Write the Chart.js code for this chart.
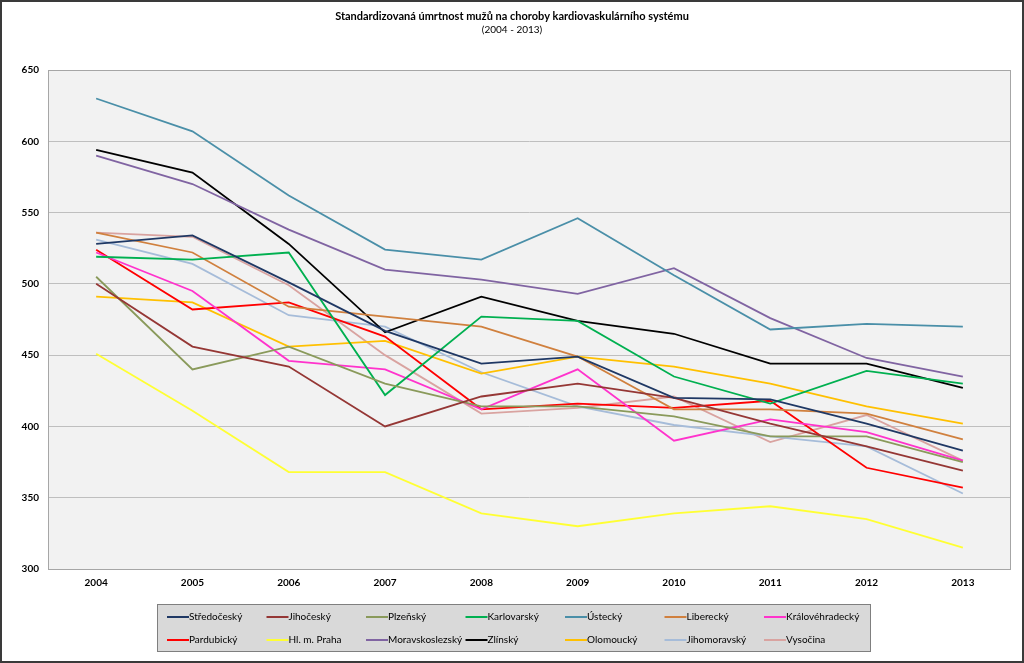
<!DOCTYPE html>
<html>
<head>
<meta charset="utf-8">
<script src="https://cdn.jsdelivr.net/npm/chart.js@4.4.1/dist/chart.umd.min.js"></script>
<style>
  html, body { margin:0; padding:0; background:#fff; }
  #wrap { width:1024px; height:663px; position:relative; }
</style>
</head>
<body>
<div id="wrap"><canvas id="graf" width="1024" height="663"></canvas></div>
<script>
const roky = ["2004","2005","2006","2007","2008","2009","2010","2011","2012","2013"];

const kraje = ["Středočeský","Jihočeský","Plzeňský","Karlovarský","Ústecký","Liberecký","Královéhradecký",
               "Pardubický","Hl. m. Praha","Moravskoslezský","Zlínský","Olomoucký","Jihomoravský","Vysočina"];

const barvy = ["#1F3864","#953735","#8A9A5B","#00B050","#4A8FA8","#D0803E","#FF33CC",
               "#FF0000","#FFFF33","#8064A2","#000000","#FFC000","#A6BCD9","#D9A3A0"];

const stredocesky     = [528, 534, 501, 467, 444, 449, 420, 419, 402, 383];
const jihocesky       = [500, 456, 442, 400, 421, 430, 420, 402, 386, 369];
const plzensky        = [505, 440, 456, 430, 414, 414, 407, 393, 393, 375];
const karlovarsky     = [519, 517, 522, 422, 477, 474, 435, 416, 439, 430];
const ustecky         = [630, 607, 562, 524, 517, 546, 506, 468, 472, 470];
const liberecky       = [536, 522, 484, 477, 470, 449, 412, 412, 409, 391];
const kralovehradecky = [522, 495, 446, 440, 412, 440, 390, 405, 396, 376];
const pardubicky      = [524, 482, 487, 463, 412, 416, 413, 418, 371, 357];
const praha           = [451, 411, 368, 368, 339, 330, 339, 344, 335, 315];
const moravskoslezsky = [590, 570, 538, 510, 503, 493, 511, 476, 448, 435];
const zlinsky         = [594, 578, 528, 466, 491, 474, 465, 444, 444, 427];
const olomoucky       = [491, 487, 456, 460, 437, 449, 442, 430, 414, 402];
const jihomoravsky    = [531, 514, 478, 470, 438, 414, 401, 393, 386, 353];
const vysocina        = [536, 533, 499, 450, 409, 413, 421, 389, 408, 376];

const hodnoty = [stredocesky, jihocesky, plzensky, karlovarsky, ustecky, liberecky, kralovehradecky,
                 pardubicky, praha, moravskoslezsky, zlinsky, olomoucky, jihomoravsky, vysocina];

const osaY = [300, 350, 400, 450, 500, 550, 600, 650];

const font = "Lato, 'Open Sans', sans-serif";

// pozadi, ramecek, titulek a legenda
const kresleni = {
  id: "kresleni",
  beforeDraw(chart){
    const ctx = chart.ctx, a = chart.chartArea;
    ctx.save();
    ctx.fillStyle = "#fff";
    ctx.fillRect(0, 0, chart.width, chart.height);
    ctx.fillStyle = "#F2F2F2";
    ctx.fillRect(a.left, a.top, a.right - a.left, a.bottom - a.top);
    ctx.restore();
  },
  afterDraw(chart){
    const ctx = chart.ctx, a = chart.chartArea;
    ctx.save();
    ctx.strokeStyle = "#A6A6A6";
    ctx.lineWidth = 1;
    ctx.strokeRect(a.left + 0.5, a.top + 0.5, a.right - a.left - 1, a.bottom - a.top);

    // vnejsi ramecek
    ctx.strokeStyle = "#3A3A3A";
    ctx.lineWidth = 2;
    ctx.strokeRect(1, 1, chart.width - 2, chart.height - 2);

    // titulek
    ctx.fillStyle = "#000";
    ctx.textAlign = "center";
    ctx.textBaseline = "middle";
    ctx.font = "bold 11px " + font;
    ctx.fillText("Standardizovaná úmrtnost mužů na choroby kardiovaskulárního systému", 512, 16);
    ctx.font = "10px " + font;
    ctx.fillText("(2004 - 2013)", 512, 30);

    // legenda
    ctx.fillStyle = "#D9D9D9";
    ctx.fillRect(157, 604, 713, 47);
    ctx.strokeStyle = "#7F7F7F";
    ctx.lineWidth = 1;
    ctx.strokeRect(157.5, 604.5, 713, 47);
    ctx.font = "10px " + font;
    ctx.textAlign = "left";
    chart.data.datasets.forEach((ds, i) => {
      const sl = i % 7, rd = Math.floor(i / 7);
      const x = 167 + sl * 99.5, y = 617 + rd * 23;
      ctx.strokeStyle = ds.borderColor;
      ctx.lineWidth = 2;
      ctx.beginPath();
      ctx.moveTo(x, y);
      ctx.lineTo(x + 22, y);
      ctx.stroke();
      ctx.fillStyle = "#000";
      ctx.fillText(ds.label, x + 22, y);
    });
    ctx.restore();
  }
};

new Chart(document.getElementById("graf"), {
  type: "line",
  data: {
    labels: roky,
    datasets: kraje.map((k, i) => ({
      label: k,
      data: hodnoty[i],
      borderColor: barvy[i],
      backgroundColor: barvy[i],
      borderWidth: 1.8,
      pointRadius: 0,
      tension: 0
    }))
  },
  options: {
    responsive: false,
    animation: false,
    layout: { padding: { top: 70, right: 13, left: 0, bottom: 0 } },
    plugins: { legend: { display: false }, title: { display: false }, tooltip: { enabled: false } },
    scales: {
      x: {
        offset: true,
        grid: { display: false },
        border: { display: false },
        ticks: { color: "#000", font: { family: font, size: 10, weight: "bold" }, padding: 0 },
        afterFit(s){ s.height = 94; }
      },
      y: {
        min: osaY[0],
        max: osaY[osaY.length - 1],
        afterBuildTicks(s){ s.ticks = osaY.map(v => ({ value: v })); },
        grid: { color: "#BFBFBF", drawTicks: false },
        border: { display: false },
        ticks: { color: "#000", font: { family: font, size: 10, weight: "bold" }, padding: 9 },
        afterFit(s){ s.width = 48; }
      }
    }
  },
  plugins: [kresleni]
});
</script>
</body>
</html>
